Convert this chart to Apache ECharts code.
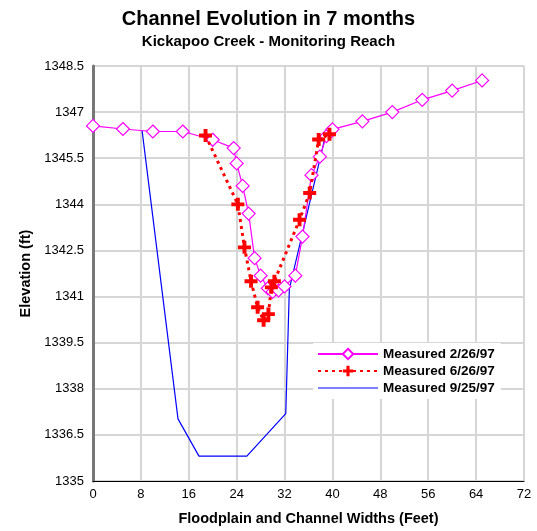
<!DOCTYPE html>
<html><head><meta charset="utf-8">
<script src="https://cdn.jsdelivr.net/npm/echarts@6/dist/echarts.min.js"></script>
<style>html,body{margin:0;padding:0;background:#fff}#c{width:537px;height:531px}</style>
</head><body><div id="c"></div>
<script>
const seriesNames = ['Measured 2/26/97', 'Measured 6/26/97', 'Measured 9/25/97'];
const feb = [[0,1346.55],[5,1346.45],[10,1346.37],[15,1346.37],[20,1346.1],[23.5,1345.83],[24,1345.33],[25,1344.6],[26,1343.7],[27,1342.25],[28,1341.68],[29.2,1341.27],[30,1341.15],[31,1341.2],[32,1341.33],[33.8,1341.68],[35,1342.95],[36.5,1344.95],[37.9,1345.55],[39,1346.22],[40,1346.44],[45,1346.7],[50,1347.0],[55,1347.4],[60,1347.7],[65,1348.03]];
const jun = [[18.8,1346.24],[24.2,1344.0],[25.3,1342.6],[26.4,1341.5],[27.5,1340.65],[28.5,1340.23],[29.3,1340.43],[29.8,1341.3],[30.3,1341.5],[34.5,1343.5],[36.2,1344.37],[37.7,1346.11],[39.5,1346.28]];
const sep = [[8.2,1346.4],[14.2,1337.02],[17.7,1335.81],[25.7,1335.81],[32.2,1337.19],[32.8,1341.25],[38.8,1346.2]];
const yTicks = {min:1335, max:1348.5, interval:1.5};
const xTicks = {min:0, max:72, interval:8};

const font = 'Liberation Sans, Arial, sans-serif';
const plus = 'path://M3.5,0H6.5V3.5H10V6.5H6.5V10H3.5V6.5H0V3.5H3.5Z';
const chart = echarts.init(document.getElementById('c'));
chart.setOption({
  animation:false,
  title:[{text:'Channel Evolution in 7 months', left:'center', top:4, textStyle:{fontFamily:font, fontSize:20, fontWeight:'bold', color:'#000'}, subtext:'Kickapoo Creek - Monitoring Reach', subtextStyle:{fontFamily:font, fontSize:15, fontWeight:'bold', color:'#000'}, itemGap:5}],
  grid:{left:93, right:13, top:66, bottom:41, show:true, borderColor:'#222', borderWidth:1},
  legend:{orient:'vertical', left:313, top:343, itemGap:3, itemWidth:60, itemHeight:13, backgroundColor:'#fff', padding:[4,6,4,4],
    textStyle:{fontFamily:font, fontSize:13.5, fontWeight:'bold', color:'#000'},
    data:[{name:seriesNames[0]},{name:seriesNames[1]},{name:seriesNames[2], icon:'path://M0,0H60V1H0Z'}]},
  xAxis:{type:'value', min:xTicks.min, max:xTicks.max, interval:xTicks.interval,
    name:'Floodplain and Channel Widths (Feet)', nameLocation:'middle', nameGap:30,
    nameTextStyle:{fontFamily:font, fontSize:14.5, fontWeight:'bold', color:'#000'},
    axisLine:{lineStyle:{color:'#000', width:1}}, axisTick:{show:false},
    axisLabel:{fontFamily:font, fontSize:13, color:'#000', margin:7},
    splitLine:{lineStyle:{color:'#d6d6d6', width:2}}},
  yAxis:{type:'value', min:yTicks.min, max:yTicks.max, interval:yTicks.interval,
    name:'Elevation (ft)', nameLocation:'middle', nameGap:58,
    nameTextStyle:{fontFamily:font, fontSize:14.5, fontWeight:'bold', color:'#000'},
    axisLine:{show:true, lineStyle:{color:'#777', width:3}}, axisTick:{show:false},
    axisLabel:{fontFamily:font, fontSize:13, color:'#000', margin:9, formatter:v => String(v)},
    splitLine:{lineStyle:{color:'#d6d6d6', width:2}}},
  series:[
    {name:seriesNames[0], type:'line', data:feb, symbol:'diamond', symbolSize:13, showAllSymbol:true,
     itemStyle:{color:'#fff', borderColor:'#ff00ff', borderWidth:1.2}, lineStyle:{color:'#ff00ff', width:1.2}, z:3},
    {name:seriesNames[1], type:'line', data:jun, symbol:plus, symbolSize:13, showAllSymbol:true,
     itemStyle:{color:'#ff0000'}, lineStyle:{color:'#ff0000', width:3, type:[3,4]}, z:4},
    {name:seriesNames[2], type:'line', data:sep, symbol:'none', showSymbol:false,
     itemStyle:{color:'#0000ff'}, lineStyle:{color:'#0000ff', width:1.2}, z:2}
  ]
});
</script></body></html>
